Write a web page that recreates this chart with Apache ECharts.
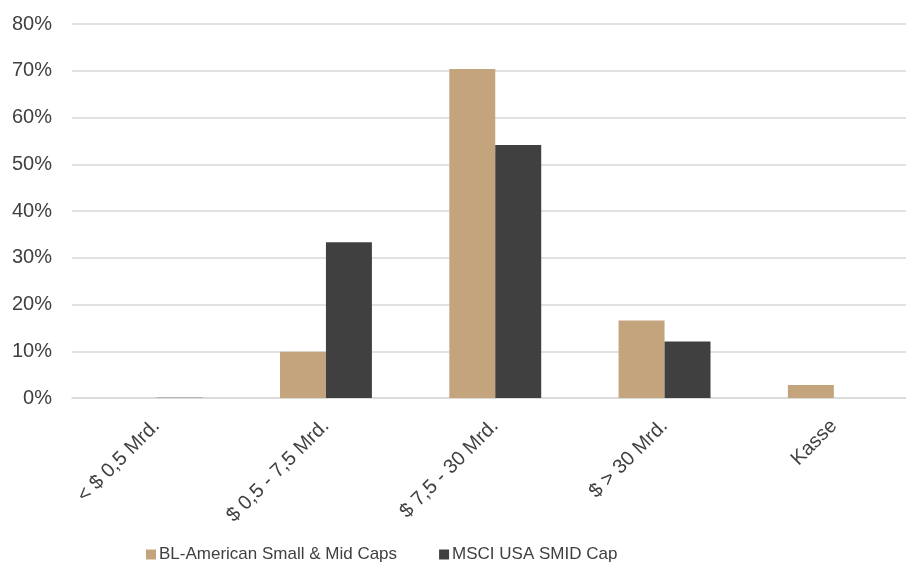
<!DOCTYPE html>
<html>
<head>
<meta charset="utf-8">
<script src="https://cdn.jsdelivr.net/npm/echarts@6/dist/echarts.min.js"></script>
<style>
html,body{margin:0;padding:0;background:#fff;overflow:hidden;width:906px;height:570px;}
#chart{width:919px;height:570px;}
</style>
</head>
<body>
<div id="chart"></div>
<script>
const categories = ['< $ 0,5 Mrd.', '$ 0,5 - 7,5 Mrd.', '$ 7,5 - 30 Mrd.', '$ > 30 Mrd.', 'Kasse'];
const seriesNames = ['BL-American Small & Mid Caps', 'MSCI USA SMID Cap'];
const blValues = [0, 9.9, 70.4, 16.6, 2.8];
const msciValues = [0.05, 33.3, 54.1, 12.1, 0];
const yTicks = [0, 10, 20, 30, 40, 50, 60, 70, 80];

const chart = echarts.init(document.getElementById('chart'));
const textColor = '#404040';
chart.setOption({
  animation: false,
  grid: { left: 72, right: 0.5, top: 24, bottom: 172, containLabel: false },
  legend: {
    bottom: 2,
    left: 141,
    itemWidth: 10,
    itemHeight: 10,
    itemGap: 42,
    icon: 'rect',
    textStyle: { fontFamily: 'Liberation Sans, Arial, sans-serif', fontSize: 17, color: textColor, padding: [0,0,0,-2] },
    data: seriesNames
  },
  xAxis: {
    type: 'category',
    data: categories,
    axisLine: { lineStyle: { color: '#d9d9d9', width: 1.5 } },
    axisTick: { show: false },
    axisLabel: {
      rotate: 45,
      margin: 25,
      interval: 0,
      fontFamily: 'Liberation Sans, Arial, sans-serif',
      fontSize: 20,
      color: textColor
    }
  },
  yAxis: {
    type: 'value',
    min: yTicks[0],
    max: yTicks[yTicks.length - 1],
    interval: 10,
    axisLine: { show: false },
    axisTick: { show: false },
    splitLine: { lineStyle: { color: '#d9d9d9', width: 1.5 } },
    axisLabel: {
      margin: 20,
      fontFamily: 'Liberation Sans, Arial, sans-serif',
      fontSize: 20,
      color: textColor,
      formatter: v => v + '%'
    }
  },
  series: [
    { name: seriesNames[0], type: 'bar', data: blValues, barGap: '0%', barCategoryGap: '45.7%', itemStyle: { color: '#c4a47c' } },
    { name: seriesNames[1], type: 'bar', data: msciValues, itemStyle: { color: '#404040' } }
  ]
});
</script>
</body>
</html>
